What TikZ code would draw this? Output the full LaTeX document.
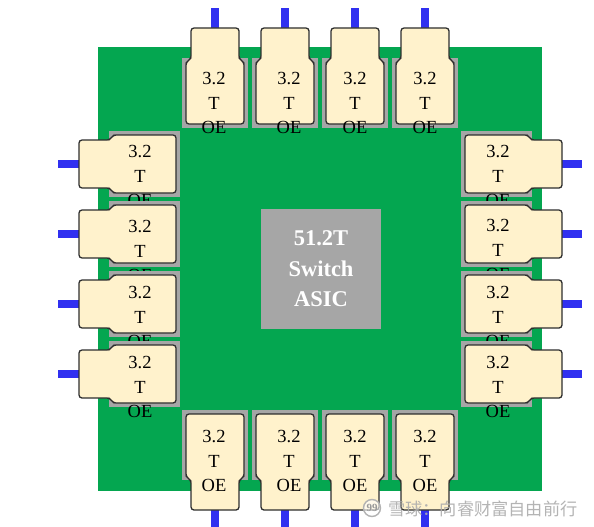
\documentclass[tikz,border=0pt]{standalone}
\usepackage{fontspec}
\setmainfont{Liberation Serif}
\newfontfamily\cjkfont{Noto Sans CJK SC}
\definecolor{boardgreen}{HTML}{04A650}
\definecolor{cagegray}{HTML}{A6A6A6}
\definecolor{modcream}{HTML}{FFF2CC}
\definecolor{stemblue}{HTML}{3030F0}
\definecolor{modline}{HTML}{2E2E2E}
\tikzset{
  cage/.style={fill=cagegray,draw=none},
  stem/.style={fill=stemblue,draw=none},
  module/.style={fill=modcream,draw=modline,line width=1.3pt,rounded corners=3pt},
  oelabel/.style={font=\fontsize{18.5}{24.6}\selectfont,align=center,inner sep=0pt,text=black},
  asiclabel/.style={font=\fontsize{22.5}{30.5}\selectfont\bfseries,align=center,inner sep=0pt,text=white}
}
\begin{document}
\begin{tikzpicture}[x=1pt,y=-1pt]
    \useasboundingbox (0,0) rectangle (594,527);
    \fill [boardgreen] (98,47) rectangle (542,491);
    \node (asic) [fill=cagegray,minimum width=120pt,minimum height=120pt,inner sep=0pt,asiclabel] at (321,269) {51.2T\\Switch\\ASIC};

    % top and bottom rows
    \foreach \x/\lx in {215/214, 285/289, 355/355, 425/425} {
      \fill [cage] (\x-33,58) rectangle (\x+33,128);
      \fill [stem] (\x-4,8) rectangle (\x+4,29);
      \draw [module] (\x-24,28) -- (\x+24,28) -- (\x+24,59) -- (\x+29,62) -- (\x+29,124) -- (\x-29,124) -- (\x-29,62) -- (\x-24,59) -- cycle;
      \node (top\x) [oelabel] at (\lx,103) {3.2\\T\\OE};
      \fill [cage] (\x-33,410) rectangle (\x+33,480);
      \fill [stem] (\x-4,509) rectangle (\x+4,527);
      \draw [module] (\x-29,414) -- (\x+29,414) -- (\x+29,477) -- (\x+24,480) -- (\x+24,510) -- (\x-24,510) -- (\x-24,480) -- (\x-29,477) -- cycle;
      \node (bot\x) [oelabel] at (\lx,461) {3.2\\T\\OE};
    }

    % left and right columns
    \foreach \y/\ly/\ry in {164/176/176, 234/251/250, 304/317/317, 374/387/387} {
      \fill [cage] (109,\y-33) rectangle (180,\y+33);
      \fill [stem] (58,\y-4) rectangle (80,\y+4);
      \draw [module] (79,\y-24) -- (110,\y-24) -- (113,\y-29) -- (176,\y-29) -- (176,\y+29) -- (113,\y+29) -- (110,\y+24) -- (79,\y+24) -- cycle;
      \node (lft\y) [oelabel] at (140,\ly) {3.2\\T\\OE};
      \fill [cage] (461,\y-33) rectangle (532,\y+33);
      \fill [stem] (561,\y-4) rectangle (582,\y+4);
      \draw [module] (465,\y-29) -- (528,\y-29) -- (531,\y-24) -- (562,\y-24) -- (562,\y+24) -- (531,\y+24) -- (528,\y+29) -- (465,\y+29) -- cycle;
      \node (rgt\y) [oelabel] at (498,\ry) {3.2\\T\\OE};
    }

    % watermark
    \draw [gray!60,fill=white,fill opacity=.6,line width=1.4pt] (372,508) circle (8.5pt);
    \node (logo) [inner sep=0pt,text=gray!80,font=\bfseries\fontsize{11}{11}\selectfont] at (372,508) {99};
    \node (mark) [anchor=west,inner sep=0pt,text=gray!65,opacity=.9,font=\cjkfont\fontsize{17.2}{18}\selectfont] at (388,509) {雪球：向睿财富自由前行};
  \end{tikzpicture}
\end{document}
